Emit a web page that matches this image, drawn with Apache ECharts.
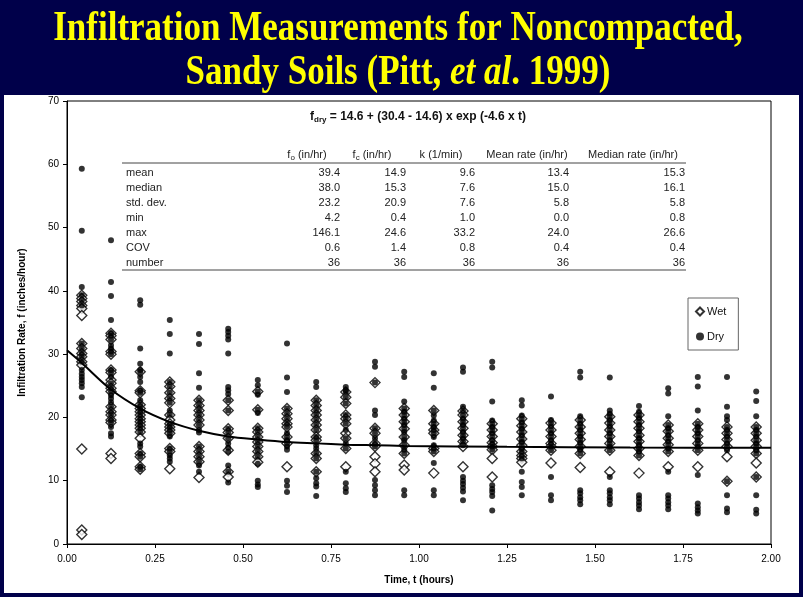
<!DOCTYPE html>
<html><head><meta charset="utf-8">
<script src="https://cdn.jsdelivr.net/npm/echarts@6/dist/echarts.min.js"></script>
<style>html,body{margin:0;padding:0;background:#fff}#c{width:803px;height:597px}</style>
</head><body><div id="c"></div>
<script>
// time (hours) of each measurement column
const timeCols = [0.042, 0.125, 0.208, 0.292, 0.375, 0.458, 0.542, 0.625, 0.708, 0.792, 0.875, 0.958,
                  1.042, 1.125, 1.208, 1.292, 1.375, 1.458, 1.542, 1.625, 1.708, 1.792, 1.875, 1.958];
// Dry infiltration rates (in/hr), one list per time column
const dry = [
 [59.3, 49.5, 40.6, 39.3, 38.5, 37.7, 31.7, 30.9, 30.1, 29.6, 28.8, 27.5, 26.9, 26.4, 25.9, 25.4, 24.8, 23.2],
 [48.0, 41.4, 39.2, 35.4, 33.3, 32.9, 32.3, 31.4, 30.9, 30.4, 30.0, 27.5, 27.1, 26.4, 25.4, 24.6, 24.1, 23.5, 23.0, 22.4, 21.7, 20.9, 20.4, 19.6, 19.2, 18.5, 17.5, 17.0],
 [38.5, 37.8, 30.9, 28.5, 27.5, 27.2, 26.4, 25.6, 24.2, 23.9, 22.7, 22.0, 21.4, 20.9, 20.4, 19.8, 19.3, 18.8, 18.3, 17.7, 15.9, 15.4, 14.3, 13.8, 12.2, 11.8],
 [35.4, 33.2, 30.1, 25.6, 24.9, 23.9, 23.0, 22.3, 21.1, 20.4, 19.0, 18.5, 18.0, 17.5, 17.0, 15.1, 14.6, 14.0, 13.5, 13.0],
 [33.2, 31.6, 27.0, 24.7, 22.7, 21.9, 21.1, 20.4, 19.6, 18.8, 18.0, 17.6, 15.4, 14.6, 13.8, 13.0, 12.4, 11.4],
 [34.0, 33.5, 32.9, 32.3, 30.1, 24.8, 24.3, 23.7, 22.7, 21.1, 18.2, 17.6, 16.7, 15.9, 15.2, 14.6, 12.4, 11.4, 9.7],
 [25.9, 25.1, 24.1, 23.6, 21.2, 20.7, 18.3, 17.7, 16.9, 16.1, 15.4, 14.6, 13.8, 12.7, 10.0, 9.4, 9.0],
 [31.7, 26.3, 24.0, 21.4, 20.6, 19.8, 19.0, 18.5, 17.5, 16.9, 16.4, 15.9, 15.4, 14.9, 10.0, 9.2, 8.2],
 [25.6, 24.8, 22.7, 21.9, 21.1, 20.4, 19.6, 18.8, 18.0, 16.9, 16.4, 15.6, 15.1, 14.3, 13.5, 11.4, 10.4, 9.6, 9.1, 7.6],
 [24.8, 24.3, 24.0, 23.2, 22.2, 20.4, 19.8, 19.0, 18.0, 16.7, 15.9, 15.1, 11.4, 9.6, 8.8, 8.2],
 [28.8, 28.0, 25.5, 21.1, 20.4, 18.3, 17.5, 16.7, 15.9, 15.4, 10.1, 9.3, 8.5, 7.7],
 [27.2, 26.4, 22.5, 21.4, 20.9, 20.4, 19.8, 19.3, 18.8, 18.2, 17.7, 16.9, 16.4, 15.6, 14.9, 14.3, 8.5, 7.7],
 [27.0, 24.7, 21.1, 20.3, 19.5, 19.0, 18.5, 18.0, 17.5, 16.9, 15.6, 15.1, 14.6, 12.8, 8.5, 7.7],
 [27.9, 27.2, 21.7, 21.0, 20.4, 19.8, 19.3, 18.8, 18.3, 17.7, 17.2, 16.7, 16.2, 15.6, 10.6, 10.0, 9.5, 8.9, 8.3, 6.9],
 [28.8, 27.9, 22.5, 19.5, 19.0, 18.5, 18.0, 17.5, 17.0, 16.4, 15.9, 15.4, 14.9, 9.3, 8.7, 8.2, 7.6, 5.3],
 [22.7, 21.9, 20.3, 19.8, 19.2, 18.7, 18.2, 17.7, 17.2, 16.6, 16.1, 15.6, 15.1, 14.6, 14.0, 13.5, 11.4, 9.8, 9.0, 7.7],
 [23.3, 19.6, 19.1, 18.6, 18.0, 17.5, 17.0, 16.4, 15.9, 15.4, 14.8, 10.6, 7.7, 6.9],
 [27.2, 26.3, 20.2, 19.6, 19.0, 18.5, 18.0, 17.5, 17.0, 16.5, 16.0, 15.4, 14.9, 14.3, 8.5, 8.0, 7.4, 6.9, 6.3],
 [26.3, 21.1, 20.6, 20.1, 19.6, 19.1, 18.6, 18.0, 17.5, 17.0, 16.4, 15.9, 15.4, 14.8, 10.6, 8.5, 8.0, 7.4, 6.9, 6.3],
 [21.8, 20.9, 20.4, 19.9, 19.3, 18.8, 18.3, 17.8, 17.2, 16.7, 16.2, 15.7, 15.1, 14.6, 14.0, 7.7, 7.2, 6.6, 6.1, 5.5],
 [24.6, 23.8, 20.2, 18.8, 18.3, 17.8, 17.2, 16.7, 16.2, 15.7, 15.1, 14.6, 11.4, 7.7, 7.2, 6.6, 6.1, 5.5],
 [26.4, 24.9, 21.1, 19.0, 18.5, 18.0, 17.5, 17.0, 16.4, 15.9, 15.4, 14.8, 10.9, 6.4, 5.8, 5.3, 4.8],
 [26.4, 21.7, 20.2, 19.6, 18.5, 18.0, 17.5, 17.0, 16.5, 15.9, 15.4, 14.8, 9.9, 7.7, 5.6, 5.0],
 [24.1, 22.6, 20.2, 18.5, 18.0, 17.5, 17.0, 16.4, 15.9, 15.4, 14.8, 14.3, 10.6, 7.7, 5.4, 4.8]
];
// Wet infiltration rates (in/hr), one list per time column
const wet = [
 [39.3, 38.8, 38.3, 37.7, 37.2, 36.1, 31.7, 30.9, 30.1, 29.6, 28.8, 28.3, 15.0, 2.2, 1.5],
 [33.3, 32.9, 32.3, 30.4, 30.0, 27.5, 27.1, 25.9, 25.4, 24.6, 24.1, 21.7, 20.9, 20.4, 19.6, 19.2, 14.3, 13.5],
 [27.2, 24.2, 23.9, 22.0, 21.4, 20.9, 20.4, 19.8, 19.3, 18.8, 18.3, 17.7, 16.7, 14.3, 13.8, 12.2, 11.8],
 [25.6, 24.9, 23.9, 23.0, 22.3, 20.4, 19.6, 19.0, 18.5, 18.0, 17.5, 15.1, 14.6, 11.9],
 [22.7, 21.9, 21.1, 20.4, 19.6, 18.8, 15.4, 14.6, 13.8, 13.0, 10.5],
 [22.7, 21.1, 18.2, 17.6, 16.7, 14.8, 11.4, 10.6],
 [24.1, 21.2, 18.3, 17.7, 16.9, 16.1, 15.4, 14.6, 13.8, 12.9],
 [21.4, 20.6, 19.8, 19.0, 18.5, 16.9, 15.9, 12.2],
 [22.7, 21.9, 21.1, 20.4, 19.6, 18.8, 18.0, 16.9, 16.4, 14.3, 13.5, 11.4],
 [24.0, 23.2, 22.2, 20.4, 19.8, 19.0, 17.5, 16.7, 15.1, 12.2],
 [25.5, 18.3, 17.5, 15.9, 15.4, 13.8, 12.7, 11.4],
 [21.4, 20.4, 19.3, 18.2, 16.9, 15.6, 14.3, 12.5, 11.7],
 [21.1, 19.0, 18.0, 17.5, 15.1, 14.6, 11.2],
 [21.0, 20.4, 19.3, 18.3, 17.2, 16.2, 15.4, 12.2],
 [19.0, 18.0, 17.0, 16.0, 15.4, 14.9, 13.5, 10.6],
 [19.8, 18.7, 17.7, 16.6, 15.6, 14.6, 14.0, 13.5, 12.9],
 [19.1, 18.0, 17.0, 15.9, 15.4, 14.8, 12.8],
 [19.6, 18.5, 17.5, 16.5, 15.4, 14.3, 12.1],
 [20.1, 19.1, 18.0, 17.0, 15.9, 14.8, 11.4],
 [20.4, 19.3, 18.3, 17.2, 16.2, 15.1, 14.0, 11.2],
 [18.8, 17.8, 16.7, 15.7, 14.6, 12.2],
 [19.0, 18.0, 17.0, 15.9, 14.8, 12.2],
 [18.5, 17.5, 16.5, 15.4, 13.8, 9.9],
 [18.5, 17.5, 16.4, 15.4, 14.3, 12.8, 10.6]
];
// fitted dry curve
const curveT = [0, 0.042, 0.125, 0.208, 0.292, 0.375, 0.458, 0.542, 0.625, 0.708, 0.792, 0.875, 0.958, 1.25, 1.6, 2.0];
const curveF = [30.6, 28.6, 24.4, 21.4, 19.3, 17.9, 17.0, 16.5, 16.1, 15.9, 15.7, 15.6, 15.5, 15.35, 15.25, 15.2];

// statistics table
const statRows = ['mean', 'median', 'std. dev.', 'min', 'max', 'COV', 'number'];
const colFo = ['39.4', '38.0', '23.2', '4.2', '146.1', '0.6', '36'];
const colFc = ['14.9', '15.3', '20.9', '0.4', '24.6', '1.4', '36'];
const colK = ['9.6', '7.6', '7.6', '1.0', '33.2', '0.8', '36'];
const colMean = ['13.4', '15.0', '5.8', '0.0', '24.0', '0.4', '36'];
const colMedian = ['15.3', '16.1', '5.8', '0.8', '26.6', '0.4', '36'];
const statHeaders = ['{m|f}{s|o}{m| (in/hr)}', '{m|f}{s|c}{m| (in/hr)}', '{m|k (1/min)}', '{m|Mean rate (in/hr)}', '{m|Median rate (in/hr)}'];

const titleLine1 = 'Infiltration Measurements for Noncompacted,';
const titleLine2 = 'Sandy Soils (Pitt, {i|et al}. 1999)';
const formulaText = '{b|f}{s|dry}{b| = 14.6 + (30.4 - 14.6) x exp (-4.6 x t)}';

const wetPts = [], dryPts = [];
timeCols.forEach((t, i) => {
  wet[i].forEach(v => wetPts.push([t, v]));
  dry[i].forEach(v => dryPts.push([t, v]));
});
const curvePts = curveT.map((t, i) => [t, curveF[i]]);

const NAVY = '#00004a';
const SANS = '"Liberation Sans", Arial, sans-serif';
const SERIF = '"Liberation Serif", "Times New Roman", serif';

const graphics = [
  {type: 'rect', shape: {x: 0, y: 0, width: 803, height: 95}, style: {fill: NAVY}, z: 10},
  {type: 'rect', shape: {x: 0, y: 0, width: 4, height: 597}, style: {fill: NAVY}, z: 10},
  {type: 'rect', shape: {x: 799, y: 0, width: 4, height: 597}, style: {fill: NAVY}, z: 10},
  {type: 'rect', shape: {x: 0, y: 593, width: 803, height: 4}, style: {fill: NAVY}, z: 10},
  {type: 'text', x: 398, y: 29, scaleY: 1.22, z: 11,
   style: {text: titleLine1, fontFamily: SERIF, fontWeight: 'bold', fontSize: 35, fill: '#ffff00', align: 'center', verticalAlign: 'middle'}},
  {type: 'text', x: 398, y: 73, scaleY: 1.22, z: 11,
   style: {text: titleLine2, fontFamily: SERIF, fontWeight: 'bold', fontSize: 35, fill: '#ffff00', align: 'center', verticalAlign: 'middle',
     rich: {i: {fontFamily: SERIF, fontWeight: 'bold', fontStyle: 'italic', fontSize: 35, fill: '#ffff00'}}}},
  {type: 'text', x: 418, y: 117, z: 11,
   style: {text: formulaText, align: 'center', verticalAlign: 'middle', fill: '#111',
     rich: {b: {fontFamily: SANS, fontWeight: 'bold', fontSize: 12, fill: '#111'},
            s: {fontFamily: SANS, fontWeight: 'bold', fontSize: 8, fill: '#111', verticalAlign: 'bottom', padding: [6, 0, 0, 0]}}}},
  {type: 'line', shape: {x1: 122, y1: 163, x2: 686, y2: 163}, style: {stroke: '#444', lineWidth: 1}, z: 11},
  {type: 'line', shape: {x1: 122, y1: 270, x2: 686, y2: 270}, style: {stroke: '#444', lineWidth: 1}, z: 11}
];
const headerCenters = [307, 372, 441, 527, 633];
statHeaders.forEach((h, j) => {
  graphics.push({type: 'text', x: headerCenters[j], y: 155, z: 11,
    style: {text: h, align: 'center', verticalAlign: 'middle',
      rich: {m: {fontFamily: SANS, fontSize: 11, fill: '#222'},
             s: {fontFamily: SANS, fontSize: 8, fill: '#222', verticalAlign: 'bottom', padding: [5, 0, 0, 0]}}}});
});
const valueCols = [colFo, colFc, colK, colMean, colMedian];
const valueRights = [340, 406, 475, 569, 685];
statRows.forEach((r, i) => {
  const y = 173 + i * 15;
  graphics.push({type: 'text', x: 126, y: y, z: 11,
    style: {text: r, fontFamily: SANS, fontSize: 11, fill: '#222', align: 'left', verticalAlign: 'middle'}});
  valueCols.forEach((col, j) => {
    graphics.push({type: 'text', x: valueRights[j], y: y, z: 11,
      style: {text: col[i], fontFamily: SANS, fontSize: 11, fill: '#222', align: 'right', verticalAlign: 'middle'}});
  });
});

const chart = echarts.init(document.getElementById('c'), null, {renderer: 'canvas'});
chart.setOption({
  animation: false,
  backgroundColor: '#fff',
  grid: {left: 67, right: 32, top: 101, bottom: 53, show: true, borderColor: '#000', borderWidth: 1},
  xAxis: {
    type: 'value', min: 0, max: 2, interval: 0.25,
    name: 'Time, t (hours)', nameLocation: 'middle', nameGap: 31,
    nameTextStyle: {fontFamily: SANS, fontWeight: 'bold', fontSize: 10, color: '#000'},
    axisLine: {lineStyle: {color: '#000', width: 1}},
    axisTick: {show: true, length: 4, lineStyle: {color: '#000'}},
    axisLabel: {fontFamily: SANS, fontSize: 10, color: '#000', margin: 10, formatter: v => v.toFixed(2)},
    splitLine: {show: false}
  },
  yAxis: {
    type: 'value', min: 0, max: 70, interval: 10,
    name: 'Infiltration Rate, f (inches/hour)', nameLocation: 'middle', nameGap: 40,
    nameTextStyle: {fontFamily: SANS, fontWeight: 'bold', fontSize: 10, color: '#000'},
    axisLine: {show: true, lineStyle: {color: '#000', width: 1}},
    axisTick: {show: true, length: 4, lineStyle: {color: '#000'}},
    axisLabel: {fontFamily: SANS, fontSize: 10, color: '#000', margin: 8},
    splitLine: {show: false}
  },
  legend: {
    orient: 'vertical', left: 688, top: 298,
    data: ['Wet', 'Dry'],
    itemWidth: 8, itemHeight: 8, itemGap: 14,
    padding: [8, 12, 8, 7],
    borderColor: '#666', borderWidth: 1, backgroundColor: '#fff',
    textStyle: {fontFamily: SANS, fontSize: 11, color: '#111', padding: [0, 0, 0, -2]}
  },
  series: [
    {name: 'Wet', type: 'scatter', data: wetPts, symbol: 'diamond', symbolSize: 10,
     itemStyle: {color: '#fff', borderColor: '#000', borderWidth: 1.4}, z: 2},
    {name: 'Dry', type: 'scatter', data: dryPts, symbol: 'circle', symbolSize: 6,
     itemStyle: {color: '#000'}, z: 3},
    {name: 'fit', type: 'line', data: curvePts, smooth: 0.3, showSymbol: false, symbol: 'none',
     lineStyle: {color: '#000', width: 2}, z: 4}
  ],
  graphic: graphics
});
</script>
</body></html>
